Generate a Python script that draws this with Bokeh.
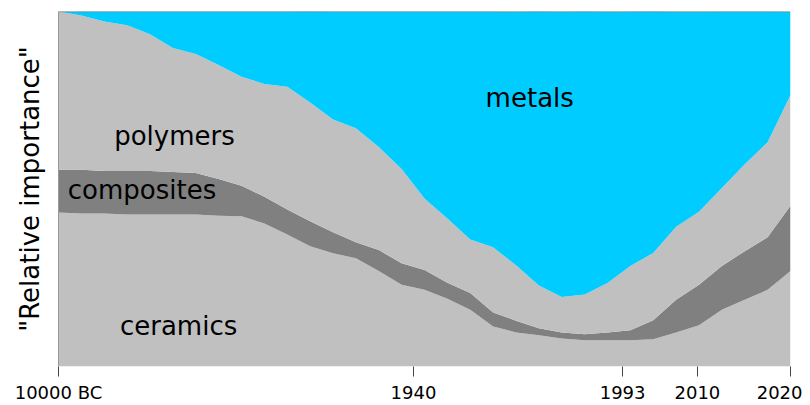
from bokeh.plotting import figure
from bokeh.models import ColumnDataSource, Range1d, FixedTicker, Span
from bokeh.core.properties import value
from bokeh.embed import file_html
from bokeh.resources import INLINE

# x positions of the data points (evenly spaced index positions)
step = list(range(33))

ceramics = [43.4, 43.1, 43.1, 42.8, 42.8, 42.8, 42.8, 42.5, 42.3, 40.3,
            37.2, 33.9, 31.9, 30.5, 26.9, 23.0, 21.6, 19.1, 16.0, 11.3,
            9.6, 8.8, 7.9, 7.4, 7.4, 7.4, 7.7, 9.6, 11.6, 16.0,
            18.8, 21.6, 26.9]
composites = [12.0, 12.3, 12.0, 12.3, 12.3, 12.0, 11.7, 10.3, 8.6, 7.5,
              7.0, 7.0, 5.9, 4.5, 5.9, 6.1, 5.6, 4.5, 4.7, 3.9,
              3.3, 2.0, 1.7, 1.7, 2.2, 2.8, 5.3, 9.2, 11.4, 12.3,
              13.7, 14.8, 18.4]
polymers = [44.6, 43.5, 42.1, 41.0, 38.5, 34.9, 33.5, 32.1, 30.7, 31.8,
            34.6, 33.5, 31.8, 32.1, 29.0, 26.5, 20.1, 18.1, 15.1, 18.4,
            15.6, 12.0, 10.0, 11.2, 13.9, 18.1, 19.0, 20.6, 20.6, 22.0,
            24.5, 26.8, 31.2]
metals = [0.0, 1.1, 2.8, 3.9, 6.4, 10.3, 12.0, 15.1, 18.4, 20.4,
          21.2, 25.7, 30.4, 32.9, 38.2, 44.4, 52.7, 58.3, 64.2, 66.4,
          71.4, 77.3, 80.3, 79.8, 76.4, 71.7, 68.1, 60.5, 56.3, 49.7,
          43.0, 36.8, 23.4]

tick_positions = [0, 15.52, 24.66, 27.93, 32]
tick_labels = ["10000 BC", "1940", "1993", "2010", "2020"]

series_names = ["ceramics", "composites", "polymers", "metals"]
series_colors = ["#c0c0c0", "#808080", "#c0c0c0", "#00ccff"]

label_text = ["metals", "polymers", "composites", "ceramics"]
label_x = [20.6, 5.07, 3.65, 5.25]
label_y = [75.5, 64.8, 49.8, 11.5]

source = ColumnDataSource(dict(x=step, ceramics=ceramics, composites=composites,
                               polymers=polymers, metals=metals))

p = figure(width=802, height=405, output_backend="svg", toolbar_location=None,
           x_range=Range1d(0, 32), y_range=Range1d(0, 100),
           min_border_left=58, min_border_right=12, min_border_top=11, min_border_bottom=37)

p.varea_stack(stackers=series_names, x="x", color=series_colors, source=source)

p.text(x=label_x, y=label_y, text=label_text, text_align="center",
       text_baseline="alphabetic", text_font=value("DejaVu Sans"),
       text_font_size="26px", text_color="black")

p.add_layout(Span(location=100, dimension="width", line_color="#7f7f7f", line_width=1.5))

p.grid.visible = False
p.outline_line_color = None
p.background_fill_color = "white"

xa = p.xaxis[0]
xa.ticker = FixedTicker(ticks=tick_positions)
xa.major_label_overrides = {t: l for t, l in zip(tick_positions, tick_labels)}
xa.axis_line_color = None
xa.major_tick_in = 0
xa.major_tick_out = 10
xa.major_tick_line_color = "#444444"
xa.minor_tick_line_color = None
xa.major_label_standoff = 5
xa.major_label_text_font = "DejaVu Sans"
xa.major_label_text_font_size = "18px"
xa.major_label_text_color = "black"

ya = p.yaxis[0]
ya.ticker = FixedTicker(ticks=[])
ya.axis_label = '"Relative importance"'
ya.axis_label_text_font = "DejaVu Sans"
ya.axis_label_text_font_size = "26px"
ya.axis_label_text_font_style = "normal"
ya.axis_label_text_color = "black"
ya.axis_label_standoff = 14
ya.major_tick_line_color = None
ya.minor_tick_line_color = None
ya.axis_line_color = "#999999"

open("out.html", "w").write(file_html(p, INLINE))
